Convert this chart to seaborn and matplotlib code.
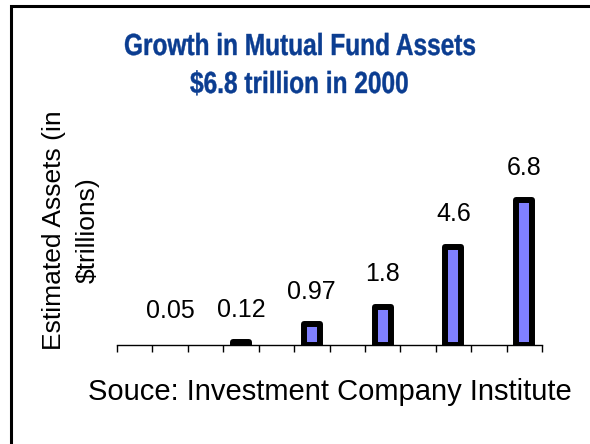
import numpy as np
import pandas as pd
import matplotlib
matplotlib.use("Agg")
import matplotlib.pyplot as plt
from matplotlib.patches import Rectangle, PathPatch
from matplotlib.textpath import TextPath
from matplotlib.font_manager import FontProperties
from matplotlib.transforms import Affine2D
import seaborn as sns

# slots on the category axis (no tick labels shown on the chart)
slots = ["s0", "s1", "s2", "s3", "s4", "s5", "s6", "s7", "s8", "s9", "s10", "s11"]
bar_slots = ["s1", "s3", "s5", "s7", "s9", "s11"]
assets = [0.05, 0.12, 0.97, 1.8, 4.6, 6.8]
value_labels = ["0.05", "0.12", "0.97", "1.8", "4.6", "6.8"]

title_lines = ["Growth in Mutual Fund Assets", "$6.8 trillion in 2000"]
ylabel_text = "Estimated Assets (in\n$trillions)"
xlabel_text = "Souce: Investment Company Institute"

sns.set_style("white")
plt.rcParams["font.family"] = ["Liberation Sans", "DejaVu Sans"]
plt.rcParams["text.color"] = "black"
plt.rcParams["axes.labelcolor"] = "black"

df = pd.DataFrame({"slot": bar_slots, "assets": assets})

W, H = 590, 444
fig = plt.figure(figsize=(W / 100, H / 100), dpi=100)
ax = fig.add_axes([117 / W, 1 - 345 / H, 425 / W, 170 / H])

sns.barplot(data=df, x="slot", y="assets", order=slots, width=0.45,
            color="#8080ff", saturation=1, edgecolor="black", linewidth=4.3,
            errorbar=None, ax=ax)
for p in ax.patches:
    p.set_joinstyle("round")
    # the smallest bar is not drawn in the original slide
    if p.get_height() < 0.1:
        p.set_visible(False)

ax.bar_label(ax.containers[0], labels=value_labels, padding=15, fontsize=18)

ax.set_xlim(-0.5, len(slots) - 0.5)
ax.set_ylim(0, 8)
ax.set_xticks(np.arange(-0.5, len(slots), 1))
ax.set_xticklabels([])
ax.set_yticks([])
ax.tick_params(axis="x", direction="out", length=5, width=1, color="black", bottom=True)
for s in ["left", "top", "right"]:
    ax.spines[s].set_visible(False)
ax.spines["bottom"].set_color("black")
ax.spines["bottom"].set_linewidth(1)

ax.set_xlabel(xlabel_text, fontsize=21)
ax.xaxis.set_label_coords(0.5, -0.195)
ax.set_ylabel(ylabel_text, fontsize=19, linespacing=1.5)
ax.yaxis.set_label_coords(-0.04, 0.675)

# condensed bold title, drawn as squeezed text paths (pixel coordinates)
title_font = FontProperties(family="Liberation Sans", weight="bold")
title_pos = [(300, H - 55), (299, H - 93)]
paths = [TextPath((0, 0), t, size=30.5, prop=title_font) for t in title_lines]
sx = 350 / paths[0].get_extents().width
for path, (cx, by) in zip(paths, title_pos):
    ext = path.get_extents()
    w = ext.width * sx
    tr = Affine2D().translate(-ext.x0, 0).scale(sx, 1).translate(cx - w / 2, by)
    fig.add_artist(PathPatch(path, transform=tr, facecolor="#0b3d91",
                             edgecolor="#0b3d91", linewidth=0.3))

# frame around the slide
fig.add_artist(Rectangle((11 / W, -0.2), 1.0, 1.2 - 6 / H,
                         transform=fig.transFigure, fill=False,
                         edgecolor="black", linewidth=2.2, clip_on=False))

fig.savefig("out.png", dpi=100)
